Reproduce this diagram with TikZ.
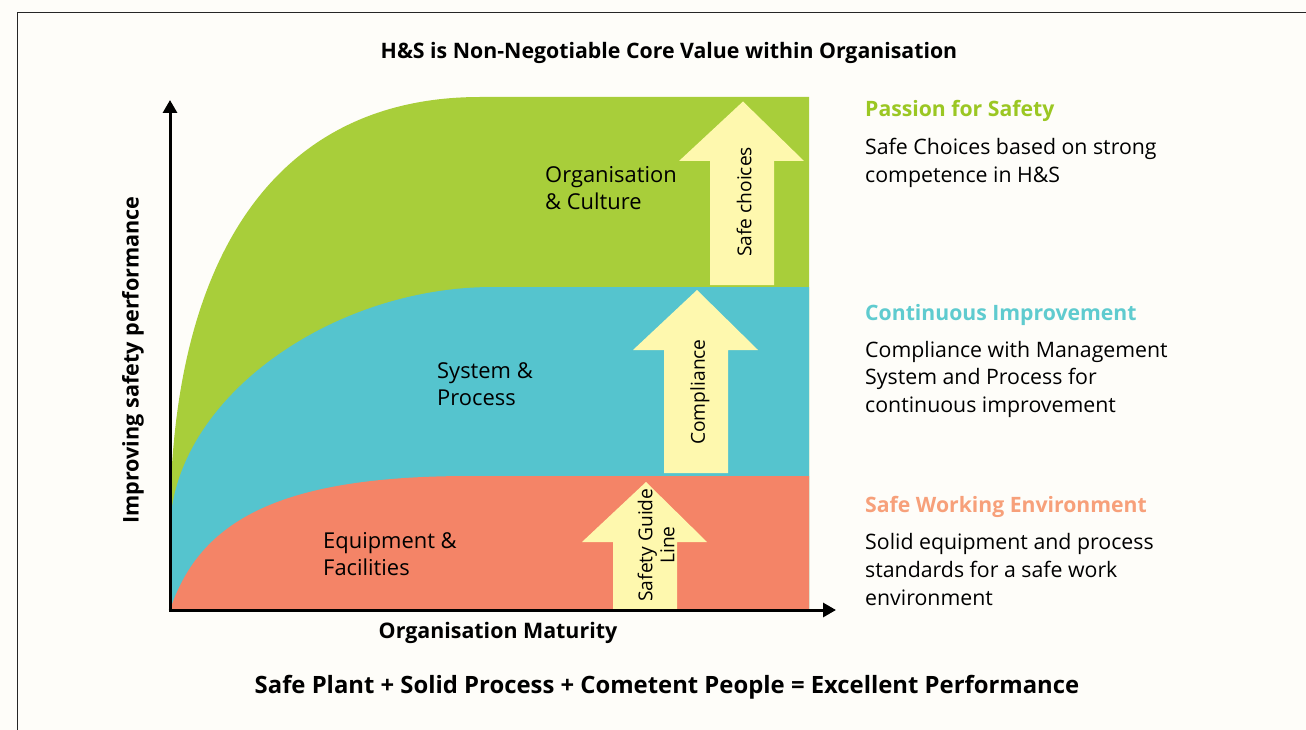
\documentclass[tikz,border=0pt]{standalone}
\usepackage{fontspec}
\setmainfont{Open Sans}
\usetikzlibrary{arrows.meta}
\definecolor{bg}{HTML}{FEFDF9}
\definecolor{lgreen}{HTML}{A8CE3A}
\definecolor{lcyan}{HTML}{55C4CE}
\definecolor{lsalmon}{HTML}{F48467}
\definecolor{lyellow}{HTML}{FEF8AE}
\definecolor{tgreen}{HTML}{9BC723}
\definecolor{tcyan}{HTML}{5FCBCF}
\definecolor{torange}{HTML}{F7A07A}
\newcommand\mlines[1]{\begin{tabular}[t]{@{}l@{}}#1\end{tabular}}
\tikzset{
  body/.style={anchor=base west, inner sep=0pt, font=\fontsize{21.3}{27.8}\selectfont},
  zone/.style={anchor=base west, inner sep=0pt, font=\fontsize{21.9}{27}\selectfont},
  head/.style={anchor=base west, inner sep=0pt, font=\bfseries\fontsize{21.2}{28}\selectfont},
  bold/.style={inner sep=0pt, font=\bfseries\fontsize{21.3}{24}\selectfont},
  arrtext/.style={inner sep=0pt, rotate=90, align=center, font=\fontsize{19.2}{22}\selectfont},
  yarrow/.style={fill=lyellow},
  axis/.style={line width=3pt, -{Triangle[length=13pt,width=14pt]}},
}
\begin{document}
\begin{tikzpicture}[x=1pt,y=-1pt]
\fill[bg] (0,0) rectangle (1306,730);
\useasboundingbox (0,0) rectangle (1306,730);
\draw[line width=1.4pt, black!85] (17.5,730) -- (17.5,12.5) -- (1306,12.5);

% regions
\fill[lgreen] (170,610) -- (170,520) .. controls (172,250) and (280,97) .. (480,97) -- (809,97) -- (809,610) -- cycle;
\fill[lcyan] (170,610) -- (170,530) .. controls (172,400) and (330,287) .. (493,287) -- (809,287) -- (809,610) -- cycle;
\fill[lsalmon] (170,610) .. controls (200,520) and (280,476) .. (470,476) -- (809,476) -- (809,610) -- cycle;

% yellow arrows
\fill[yarrow] (710,285) -- (710,161) -- (679,161) -- (743,101.5) -- (804,161) -- (774,161) -- (774,285) -- cycle;
\fill[yarrow] (664,473) -- (664,350) -- (633,350) -- (697,290) -- (758,350) -- (728,350) -- (728,473) -- cycle;
\fill[yarrow] (613,610) -- (613,542) -- (582,542) -- (646,482) -- (707,542) -- (677,542) -- (677,610) -- cycle;

\node[arrtext] (t1) at (744,202) {Safe choices};
\node[arrtext] (t2) at (700,392) {Compliance};
\node[arrtext] (t3) at (656,545) {Safety Guide\\Line};

% axes
\coordinate (O) at (170,611.5);
\coordinate (Ox) at (168.5,610);
\coordinate (ytip) at (170,100);
\coordinate (xtip) at (836,610);
\draw[axis] (O) -- (ytip);
\draw[axis] (Ox) -- (xtip);

% zone labels
\node[zone] (z1) at (545,183) {\mlines{Organisation\\\& Culture}};
\node[zone] (z2) at (437,378) {\mlines{System \&\\Process}};
\node[zone] (z3) at (323,548) {\mlines{Equipment \&\\Facilities}};

% titles
\node[bold, anchor=base] (title) at (669,59) {H\&S is Non-Negotiable Core Value within Organisation};
\node[bold, anchor=base, font=\bfseries\fontsize{21.4}{24}\selectfont] (xlab) at (498,638) {Organisation Maturity};
\node[bold, rotate=90, font=\bfseries\fontsize{21.6}{24}\selectfont] (ylab) at (133,360) {Improving safety performance};
\node[inner sep=0pt, anchor=base, font=\bfseries\fontsize{23.85}{28}\selectfont] (bottom) at (667,693) {Safe Plant + Solid Process + Cometent People = Excellent Performance};

% right column
\node[head, text=tgreen] (h1) at (865,117) {Passion for Safety};
\node[body] (b1) at (865,154.5) {\mlines{Safe Choices based on strong\\competence in H\&S}};
\node[head, text=tcyan] (h2) at (865,320.5) {Continuous Improvement};
\node[body] (b2) at (865,357) {\mlines{Compliance with Management\\System and Process for\\continuous improvement}};
\node[head, text=torange] (h3) at (865,512.5) {Safe Working Environment};
\node[body] (b3) at (865,549.5) {\mlines{Solid equipment and process\\standards for a safe work\\environment}};
\end{tikzpicture}
\end{document}
